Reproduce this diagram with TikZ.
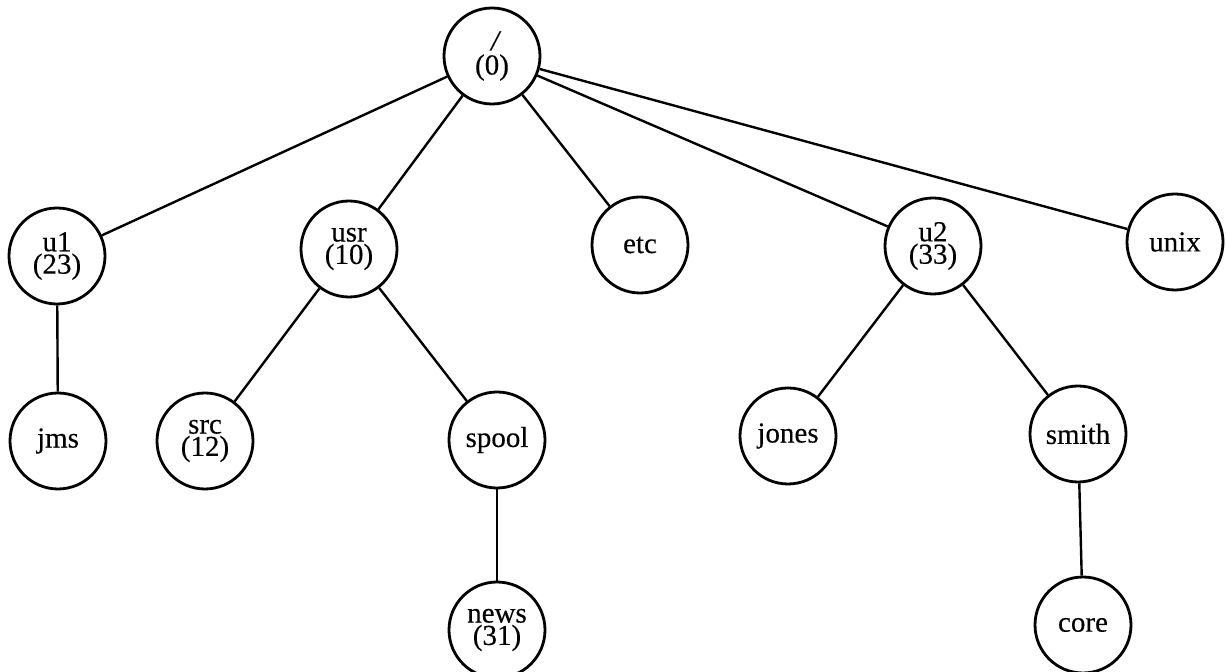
\documentclass[tikz,border=0pt]{standalone}
\usepackage{fontspec}
\setmainfont{Liberation Serif}
\newfontfamily\nodefont[FakeBold=0.3]{Liberation Serif}
\begin{document}
\begin{tikzpicture}[x=0.5pt,y=-0.5pt,
  dir/.style={circle,draw,line width=1.4pt,minimum size=48pt,inner sep=0pt,
    align=center,font=\nodefont\fontsize{14.5}{9.6}\selectfont},
  edge/.style={line width=1.2pt}]
\useasboundingbox (0,0) rectangle (1226,672);
\node[dir] (root) at (492,56) {\raisebox{1pt}{\itshape\kern3pt/}\\(0)};
\node[dir] (u1) at (57,256) {u1\\(23)};
\node[dir] (usr) at (349,249) {usr\\(10)};
\node[dir] (etc) at (640,245) {etc};
\node[dir] (u2) at (933,246) {u2\\(33)};
\node[dir] (unix) at (1175,242) {unix};
\node[dir] (jms) at (58,441) {jms};
\node[dir] (src) at (205,441) {src\\(12)};
\node[dir] (spool) at (497,440) {spool};
\node[dir] (jones) at (788,436) {jones};
\node[dir] (smith) at (1078,434) {smith};
\node[dir] (news) at (497,630) {news\\(31)};
\node[dir] (core) at (1083,625) {core};
\foreach \a/\b in {root/u1,root/usr,root/etc,root/u2,root/unix,u1/jms,usr/src,usr/spool,spool/news,u2/jones,u2/smith,smith/core}
  \draw[edge] (\a) -- (\b);
\end{tikzpicture}
\end{document}
